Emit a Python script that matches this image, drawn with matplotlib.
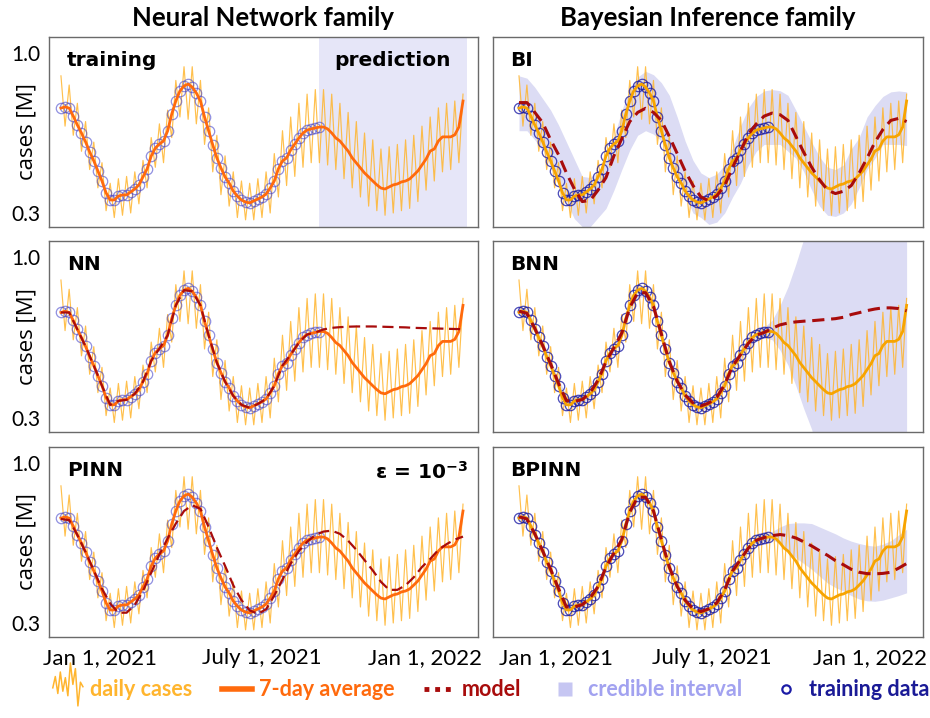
import numpy as np
import matplotlib
matplotlib.use("Agg")
import matplotlib.pyplot as plt
from matplotlib.lines import Line2D
from matplotlib.legend_handler import HandlerBase

# ---------------- data (cases in millions) -------------
# half-week sampling (days since start of the series)
half_week_days = np.arange(0, 343.1, 3.5)
# weekly sampling for the model curves and credible intervals
week_days = np.arange(0, 343.1, 7)

avg7 = [0.759, 0.764, 0.759, 0.724, 0.685, 0.650, 0.611, 0.567, 0.528, 0.484,
        0.440, 0.388, 0.357, 0.357, 0.374, 0.379, 0.379, 0.392, 0.405, 0.423,
        0.458, 0.493, 0.549, 0.584, 0.602, 0.615, 0.659, 0.733, 0.790, 0.834,
        0.856, 0.864, 0.851, 0.825, 0.790, 0.720, 0.659, 0.598, 0.541, 0.497,
        0.458, 0.431, 0.396, 0.374, 0.357, 0.348, 0.344, 0.353, 0.361, 0.370,
        0.383, 0.409, 0.440, 0.493, 0.528, 0.541, 0.576, 0.602, 0.628, 0.650,
        0.663, 0.668, 0.672, 0.676, 0.676, 0.668, 0.650, 0.628, 0.615, 0.593,
        0.571, 0.541, 0.519, 0.497, 0.475, 0.458, 0.440, 0.423, 0.409, 0.405,
        0.414, 0.423, 0.427, 0.436, 0.440, 0.449, 0.466, 0.484, 0.510, 0.536,
        0.571, 0.580, 0.615, 0.633, 0.633, 0.633, 0.642, 0.676, 0.790]

daily = [0.90, 0.68, 0.86, 0.64, 0.78, 0.57, 0.70, 0.49, 0.61, 0.41,
         0.52, 0.31, 0.43, 0.28, 0.45, 0.29, 0.46, 0.30, 0.48, 0.34,
         0.53, 0.41, 0.63, 0.50, 0.69, 0.52, 0.75, 0.63, 0.88, 0.72,
         0.94, 0.71, 0.94, 0.69, 0.88, 0.60, 0.76, 0.48, 0.64, 0.38,
         0.55, 0.33, 0.48, 0.28, 0.44, 0.27, 0.43, 0.27, 0.45, 0.28,
         0.48, 0.30, 0.56, 0.37, 0.66, 0.42, 0.72, 0.46, 0.78, 0.50,
         0.82, 0.52, 0.84, 0.52, 0.84, 0.51, 0.82, 0.49, 0.78, 0.45,
         0.74, 0.41, 0.70, 0.37, 0.65, 0.33, 0.62, 0.31, 0.58, 0.29,
         0.59, 0.30, 0.60, 0.31, 0.62, 0.32, 0.64, 0.35, 0.68, 0.40,
         0.72, 0.44, 0.76, 0.48, 0.78, 0.49, 0.79, 0.52, 0.82]

train_end_day = 220.5
pred_span = [220.0, 346.0]

nn_model = [0.759, 0.759, 0.685, 0.611, 0.528, 0.440, 0.357, 0.374, 0.379, 0.405,
            0.458, 0.549, 0.602, 0.659, 0.790, 0.856, 0.851, 0.790, 0.659, 0.541,
            0.458, 0.396, 0.357, 0.344, 0.361, 0.383, 0.440, 0.528, 0.576, 0.628,
            0.663, 0.672, 0.685, 0.692, 0.695, 0.697, 0.698, 0.698, 0.698, 0.697,
            0.696, 0.695, 0.694, 0.692, 0.691, 0.690, 0.689, 0.688, 0.687, 0.686]

pinn_model = [0.755, 0.750, 0.685, 0.610, 0.530, 0.450, 0.385, 0.345, 0.345, 0.380,
              0.440, 0.520, 0.600, 0.670, 0.735, 0.790, 0.815, 0.800, 0.720, 0.630,
              0.550, 0.465, 0.400, 0.355, 0.340, 0.360, 0.420, 0.490, 0.560, 0.615,
              0.655, 0.685, 0.700, 0.704, 0.690, 0.660, 0.620, 0.575, 0.530, 0.480,
              0.445, 0.445, 0.465, 0.500, 0.545, 0.580, 0.620, 0.645, 0.665, 0.678]

bi_model = [0.783, 0.783, 0.740, 0.695, 0.620, 0.555, 0.475, 0.405, 0.350, 0.355,
            0.400, 0.455, 0.550, 0.625, 0.700, 0.740, 0.758, 0.740, 0.705, 0.635,
            0.560, 0.484, 0.420, 0.370, 0.353, 0.375, 0.420, 0.500, 0.570, 0.645,
            0.690, 0.724, 0.737, 0.730, 0.705, 0.635, 0.565, 0.500, 0.445, 0.400,
            0.385, 0.395, 0.420, 0.475, 0.540, 0.610, 0.665, 0.705, 0.714, 0.700]
bi_lo = [0.66, 0.66, 0.62, 0.575, 0.50, 0.425, 0.35, 0.275, 0.24, 0.24,
         0.28, 0.32, 0.40, 0.49, 0.575, 0.64, 0.66, 0.645, 0.615, 0.55,
         0.46, 0.375, 0.30, 0.28, 0.25, 0.26, 0.30, 0.37, 0.43, 0.51,
         0.57, 0.60, 0.60, 0.60, 0.57, 0.54, 0.48, 0.40, 0.33, 0.29,
         0.285, 0.30, 0.34, 0.41, 0.49, 0.54, 0.60, 0.60, 0.60, 0.595]
bi_hi = [0.90, 0.89, 0.85, 0.80, 0.75, 0.685, 0.61, 0.535, 0.46, 0.455,
         0.475, 0.53, 0.63, 0.75, 0.84, 0.895, 0.92, 0.905, 0.87, 0.815,
         0.72, 0.615, 0.53, 0.475, 0.455, 0.47, 0.51, 0.585, 0.68, 0.76,
         0.81, 0.834, 0.84, 0.835, 0.815, 0.75, 0.68, 0.61, 0.545, 0.50,
         0.49, 0.51, 0.58, 0.63, 0.72, 0.77, 0.81, 0.83, 0.834, 0.83]

bnn_model = [0.765, 0.755, 0.690, 0.615, 0.535, 0.450, 0.375, 0.372, 0.380, 0.410,
             0.465, 0.545, 0.605, 0.670, 0.780, 0.845, 0.845, 0.785, 0.665, 0.545,
             0.460, 0.400, 0.365, 0.352, 0.365, 0.390, 0.445, 0.525, 0.575, 0.625,
             0.660, 0.672, 0.690, 0.705, 0.713, 0.718, 0.721, 0.723, 0.726, 0.729,
             0.732, 0.738, 0.750, 0.758, 0.767, 0.774, 0.779, 0.779, 0.776, 0.766]
bnn_lo = [0.745, 0.735, 0.670, 0.595, 0.515, 0.430, 0.355, 0.352, 0.360, 0.390,
          0.445, 0.525, 0.585, 0.650, 0.760, 0.825, 0.825, 0.765, 0.645, 0.525,
          0.440, 0.380, 0.345, 0.332, 0.345, 0.370, 0.425, 0.505, 0.555, 0.605,
          0.640, 0.650, 0.640, 0.595, 0.530, 0.440, 0.340, 0.250, 0.10, 0.10,
          0.10, 0.10, 0.10, 0.10, 0.10, 0.10, 0.10, 0.10, 0.10, 0.10]
bnn_hi = [0.785, 0.775, 0.710, 0.635, 0.555, 0.470, 0.395, 0.392, 0.400, 0.430,
          0.485, 0.565, 0.625, 0.690, 0.800, 0.865, 0.865, 0.805, 0.685, 0.565,
          0.480, 0.420, 0.385, 0.372, 0.385, 0.410, 0.465, 0.545, 0.595, 0.645,
          0.680, 0.695, 0.725, 0.790, 0.870, 0.970, 1.080, 1.20, 1.20, 1.20,
          1.20, 1.20, 1.20, 1.20, 1.20, 1.20, 1.20, 1.20, 1.20, 1.20]

bpinn_model = [0.765, 0.755, 0.690, 0.615, 0.535, 0.450, 0.370, 0.370, 0.380, 0.410,
               0.460, 0.545, 0.605, 0.665, 0.785, 0.850, 0.850, 0.790, 0.665, 0.545,
               0.460, 0.400, 0.362, 0.350, 0.362, 0.388, 0.445, 0.528, 0.578, 0.628,
               0.662, 0.674, 0.682, 0.687, 0.682, 0.672, 0.655, 0.637, 0.616, 0.596,
               0.573, 0.555, 0.535, 0.522, 0.516, 0.515, 0.517, 0.522, 0.540, 0.560]
bpinn_lo = [0.750, 0.740, 0.675, 0.600, 0.520, 0.435, 0.355, 0.355, 0.365, 0.395,
            0.445, 0.530, 0.590, 0.650, 0.770, 0.835, 0.835, 0.775, 0.650, 0.530,
            0.445, 0.385, 0.347, 0.335, 0.347, 0.373, 0.430, 0.513, 0.563, 0.613,
            0.647, 0.659, 0.665, 0.645, 0.610, 0.585, 0.560, 0.535, 0.505, 0.475,
            0.455, 0.440, 0.420, 0.405, 0.397, 0.395, 0.400, 0.410, 0.420, 0.432]
bpinn_hi = [0.780, 0.770, 0.705, 0.630, 0.550, 0.465, 0.385, 0.385, 0.395, 0.425,
            0.475, 0.560, 0.620, 0.680, 0.800, 0.865, 0.865, 0.805, 0.680, 0.560,
            0.475, 0.415, 0.377, 0.365, 0.377, 0.403, 0.460, 0.543, 0.593, 0.643,
            0.677, 0.689, 0.700, 0.720, 0.735, 0.738, 0.738, 0.735, 0.720, 0.705,
            0.690, 0.672, 0.658, 0.648, 0.640, 0.636, 0.645, 0.660, 0.685, 0.710]

tick_days = [33, 171, 311]
tick_labels = ["Jan 1, 2021", "July 1, 2021", "Jan 1, 2022"]
y_ticks = [0.3, 1.0]
y_ticklabels = ["0.3", "1.0"]

col_titles = ["Neural Network family", "Bayesian Inference family"]
legend_labels = ["daily cases", "7-day average", "model", "credible interval", "training data"]

# ---------------- style -------------
C_DAILY = "#ffb52e"
C_AVG_L = "#ff6a0d"
C_AVG_R = "#f7a400"
C_MODEL = "#a80c0c"
C_BAND = "#dcdcf4"
C_PRED = "#e6e6f8"
C_TRAIN_L = "#4646cc"
C_TRAIN_R = "#1c1ca6"

plt.rcParams["font.family"] = ["Lato", "DejaVu Sans"]

fig = plt.figure(figsize=(9.3, 7.18), dpi=100)
W, H = 930.0, 718.0
cols = [(49, 478), (493, 923)]
rows = [(37, 227), (241, 432), (447, 637)]
xlims = [(-10.2, 355.8), (-23.0, 357.5)]
ylim = (0.2387, 1.070)

hd = np.asarray(half_week_days)
wd = np.asarray(week_days)
train_mask = hd <= train_end_day

axes = {}
for r, (y0, y1) in enumerate(rows):
    for c, (x0, x1) in enumerate(cols):
        ax = fig.add_axes([x0 / W, 1 - y1 / H, (x1 - x0) / W, (y1 - y0) / H])
        ax.set_xlim(*xlims[c])
        ax.set_ylim(*ylim)
        for s in ax.spines.values():
            s.set_color("#6a6a6a")
            s.set_linewidth(1.0)
        ax.set_yticks(y_ticks)
        ax.set_xticks(tick_days)
        ax.tick_params(length=0)
        if c == 0:
            ax.set_yticklabels(y_ticklabels, fontsize=15)
            ax.tick_params(axis="y", pad=6)
            ax.set_ylabel("cases [M]", fontsize=16, family=["Open Sans", "DejaVu Sans"])
            ax.yaxis.set_label_coords(-0.027, 0.5)
        else:
            ax.set_yticklabels([])
        if r == 2:
            ax.set_xticklabels(tick_labels, fontsize=16)
            ax.tick_params(axis="x", pad=8)
        else:
            ax.set_xticklabels([])
        axes[(r, c)] = ax


def base(ax, right):
    ax.plot(hd, daily, color=C_DAILY, lw=0.85, alpha=0.85, zorder=2)


def training(ax, right):
    col = C_TRAIN_R if right else C_TRAIN_L
    ax.plot(hd[train_mask], np.asarray(avg7)[train_mask], ls="none", marker="o",
            ms=7.5, mfc="none", mec=col, mew=0.9, alpha=0.6 if not right else 0.8,
            zorder=4)


def average(ax, right):
    ax.plot(hd, avg7, color=C_AVG_R if right else C_AVG_L, lw=2.0, zorder=5)


def model(ax, vals, right):
    ax.plot(wd, vals, color=C_MODEL, lw=2.2 if right else 1.6,
            dashes=(4, 2.2) if right else (5, 2.5), zorder=6)


def label(ax, text, right):
    ax.text(0.04 if right else 0.042, 0.925, text, transform=ax.transAxes,
            ha="left", va="top", fontsize=14.5, fontweight="bold",
            family="DejaVu Sans", zorder=10)

# top-left : training / prediction
ax = axes[(0, 0)]
ax.axvspan(pred_span[0], pred_span[1], color=C_PRED, zorder=0, lw=0)
base(ax, False); training(ax, False); average(ax, False)
ax.text(0.042, 0.925, "training", transform=ax.transAxes, ha="left", va="top",
        fontsize=14.5, fontweight="bold", family="DejaVu Sans")
ax.text(sum(pred_span) / 2, 0.925, "prediction",
        transform=ax.get_xaxis_transform(), ha="center", va="top",
        fontsize=14.5, fontweight="bold", family="DejaVu Sans")

# NN
ax = axes[(1, 0)]
base(ax, False); training(ax, False); average(ax, False); model(ax, nn_model, False)
label(ax, "NN", False)

# PINN
ax = axes[(2, 0)]
base(ax, False); training(ax, False); average(ax, False); model(ax, pinn_model, False)
label(ax, "PINN", False)
ax.text(0.977, 0.925, r"ε = 10$^{\mathbf{-3}}$", transform=ax.transAxes,
        ha="right", va="top", fontsize=14.5, fontweight="bold", family="DejaVu Sans")

# Bayesian panels
for (r, name, mv, lo, hi) in [(0, "BI", bi_model, bi_lo, bi_hi),
                              (1, "BNN", bnn_model, bnn_lo, bnn_hi),
                              (2, "BPINN", bpinn_model, bpinn_lo, bpinn_hi)]:
    ax = axes[(r, 1)]
    ax.fill_between(wd, lo, hi, color=C_BAND, lw=0, zorder=1)
    base(ax, True); training(ax, True); average(ax, True); model(ax, mv, True)
    label(ax, name, True)

# column titles
for c, t in enumerate(col_titles):
    x0, x1 = cols[c]
    fig.text((x0 + x1) / 2 / W, 1 - 18 / H, t, ha="center", va="center",
             fontsize=18.5, fontweight="bold")


# legend
class HandlerZigZag(HandlerBase):
    def create_artists(self, legend, orig_handle, xdescent, ydescent, width,
                       height, fontsize, trans):
        rel = np.array([0.1, 1.1, -0.4, 1.5, -0.2, 1.0, -0.6, 2.3, 0.4, 1.8,
                        -1.5, 0.6, 0.2])
        xs = np.linspace(-xdescent, width - xdescent, len(rel))
        ys = -ydescent + height * 0.5 + rel * height * 0.75
        return [Line2D(xs, ys, color=C_DAILY, lw=1.1, transform=trans)]


h_daily = Line2D([], [], color=C_DAILY)
h_avg = Line2D([], [], color=C_AVG_L, lw=4)
h_model = Line2D([], [], color=C_MODEL, lw=3.5, ls=(0, (1, 1.2)))
h_band = Line2D([], [], ls="none", marker="s", ms=10, mfc="#c6c6f2", mec="none")
h_train = Line2D([], [], ls="none", marker="o", ms=6, mfc="none", mec=C_TRAIN_R, mew=1.6)

leg = fig.legend([h_daily, h_avg, h_model, h_band, h_train], legend_labels,
                 handler_map={h_daily: HandlerZigZag()},
                 loc="center", bbox_to_anchor=(0.528, 1 - 690 / H), ncol=5,
                 frameon=False, handlelength=1.4, handletextpad=0.35,
                 columnspacing=1.35,
                 prop={"family": "Lato", "weight": "bold", "size": 15.5},
                 labelcolor=[C_DAILY, C_AVG_L, C_MODEL, "#a2a2f0", "#1a1a96"])

fig.savefig("out.png", dpi=100)
